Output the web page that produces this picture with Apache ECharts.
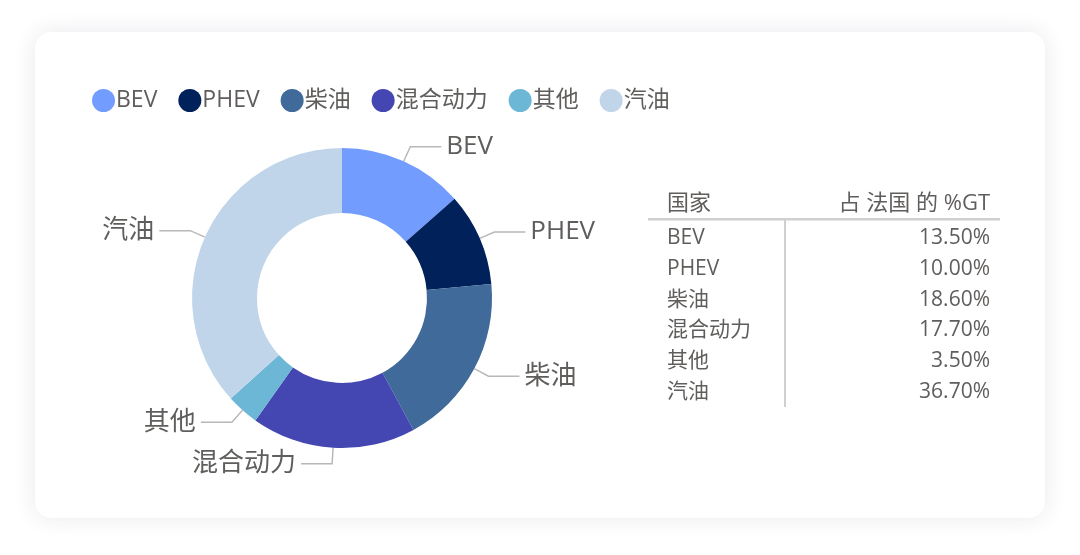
<!DOCTYPE html>
<html>
<head>
<meta charset="utf-8">
<script src="https://cdn.jsdelivr.net/npm/echarts@6/dist/echarts.min.js"></script>
<style>
html,body{margin:0;padding:0;background:#ffffff;width:1080px;height:555px;overflow:hidden;}
#card{position:absolute;left:35px;top:32px;width:1010px;height:486px;border-radius:16px;background:#fff;box-shadow:0 0 22px rgba(40,40,80,0.10);}
#chart{position:absolute;left:0;top:0;width:1080px;height:555px;}
</style>
</head>
<body>
<div id="card"></div>
<div id="chart"></div>
<script>
const categories = ['BEV', 'PHEV', '柴油', '混合动力', '其他', '汽油'];
const shares = [13.5, 10.0, 18.6, 17.7, 3.5, 36.7];
const colors = ['#739CFF', '#00215A', '#3F6A9A', '#4446B2', '#6CB6D6', '#C1D5EA'];
const tableHeader = ['国家', '占 法国 的 %GT'];

const FONT = '"Open Sans","Noto Sans CJK SC",sans-serif';
const TXT = '#605E5C';

const chart = echarts.init(document.getElementById('chart'), null, {renderer: 'canvas'});

const graphics = [];
// table header
graphics.push({type: 'text', x: 667, y: 204, style: {text: tableHeader[0], font: '22px ' + FONT, fill: TXT, textVerticalAlign: 'middle'}});
graphics.push({type: 'text', x: 990, y: 204, style: {text: tableHeader[1], font: '22px ' + FONT, fill: TXT, textAlign: 'right', textVerticalAlign: 'middle'}});
graphics.push({type: 'rect', shape: {x: 648, y: 218, width: 352, height: 2.5}, style: {fill: '#D0D0D0'}});
graphics.push({type: 'rect', shape: {x: 784, y: 220, width: 2, height: 187}, style: {fill: '#D0D0D0'}});
categories.forEach((c, i) => {
  const y = 238 + i * 30.8;
  graphics.push({type: 'text', x: 667, y: y, style: {text: c, font: '21px ' + FONT, fill: TXT, textVerticalAlign: 'middle'}});
  graphics.push({type: 'text', x: 990, y: y, style: {text: shares[i].toFixed(2) + '%', font: '21px ' + FONT, fill: TXT, textAlign: 'right', textVerticalAlign: 'middle'}});
});

chart.setOption({
  animation: false,
  color: colors,
  textStyle: {fontFamily: FONT},
  legend: {
    left: 87, top: 84,
    icon: 'circle',
    itemWidth: 23, itemHeight: 23,
    itemGap: 21,
    textStyle: {fontSize: 23, color: TXT, fontFamily: FONT, padding: [0, 0, 0, -4]},
    data: categories
  },
  series: [{
    type: 'pie',
    center: [342, 298],
    radius: [85, 150],
    startAngle: 90,
    clockwise: true,
    avoidLabelOverlap: true,
    label: {show: true, formatter: '{b}', fontSize: 26, color: TXT, fontFamily: FONT},
    labelLine: {show: true, length: 16, length2: 31, lineStyle: {color: '#B8B8B8', width: 1.5}},
    emphasis: {disabled: true},
    data: categories.map((c, i) => ({name: c, value: shares[i]}))
  }],
  graphic: graphics
});
</script>
</body>
</html>
